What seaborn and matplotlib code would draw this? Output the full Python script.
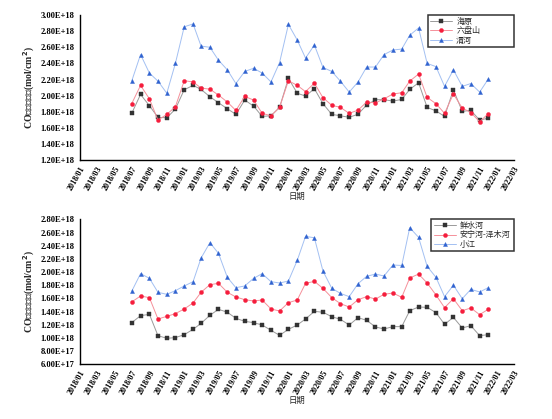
import matplotlib
matplotlib.use("Agg")
import matplotlib.pyplot as plt
import seaborn as sns
import pandas as pd
import numpy as np

sns.set_style("white")
plt.rcParams['font.family'] = ['Liberation Serif', 'Noto Sans CJK SC']

months = pd.date_range("2018-07-01", "2021-12-01", freq="MS")
tick_labels = [f"{y}/{m:02d}" for y in range(2018, 2023) for m in (1, 3, 5, 7, 9, 11)][:26]

haiyuan = [1.78, 2.015, 1.875, 1.73, 1.725, 1.833, 2.073, 2.127, 2.077, 1.986, 1.912, 1.837,
           1.767, 1.945, 1.87, 1.742, 1.75, 1.854, 2.214, 2.03, 1.994, 2.086, 1.90, 1.767,
           1.75, 1.73, 1.77, 1.883, 1.95, 1.95, 1.932, 1.953, 2.077, 2.16, 1.854, 1.81,
           1.742, 2.073, 1.804, 1.817, 1.696, 1.72]
liupanshan = [1.90, 2.127, 1.96, 1.696, 1.767, 1.862, 2.185, 2.17, 2.094, 2.08, 2.007, 1.92,
              1.816, 1.99, 1.945, 1.78, 1.75, 1.854, 2.185, 2.127, 2.05, 2.155, 1.974, 1.88,
              1.854, 1.78, 1.82, 1.92, 1.91, 1.96, 2.02, 2.036, 2.18, 2.268, 1.978, 1.90,
              1.78, 2.02, 1.846, 1.79, 1.676, 1.775]
weihe = [2.18, 2.51, 2.28, 2.18, 2.03, 2.40, 2.855, 2.89, 2.615, 2.60, 2.44, 2.32,
         2.15, 2.30, 2.34, 2.28, 2.17, 2.41, 2.884, 2.69, 2.466, 2.628, 2.35, 2.30,
         2.18, 2.044, 2.17, 2.355, 2.355, 2.51, 2.566, 2.578, 2.75, 2.84, 2.40, 2.36,
         2.115, 2.32, 2.115, 2.15, 2.044, 2.205]

xianshuihe = [1.232, 1.338, 1.359, 1.035, 0.995, 1.005, 1.05, 1.131, 1.222, 1.344, 1.435, 1.39,
              1.298, 1.253, 1.232, 1.197, 1.116, 1.04, 1.131, 1.197, 1.288, 1.404, 1.39, 1.323,
              1.283, 1.197, 1.308, 1.268, 1.167, 1.136, 1.172, 1.172, 1.414, 1.47, 1.465, 1.384,
              1.207, 1.313, 1.151, 1.187, 1.035, 1.05]
anninghe = [1.546, 1.637, 1.612, 1.288, 1.328, 1.369, 1.44, 1.531, 1.693, 1.809, 1.829, 1.693,
            1.622, 1.581, 1.561, 1.576, 1.44, 1.409, 1.536, 1.576, 1.829, 1.859, 1.753, 1.612,
            1.521, 1.47, 1.581, 1.627, 1.591, 1.662, 1.682, 1.617, 1.91, 1.97, 1.834, 1.652,
            1.46, 1.596, 1.414, 1.455, 1.354, 1.435]
xiaojiang = [1.708, 1.976, 1.905, 1.693, 1.662, 1.718, 1.789, 1.854, 2.213, 2.446, 2.284, 1.92,
             1.763, 1.789, 1.905, 1.976, 1.854, 1.834, 1.864, 2.178, 2.542, 2.52, 2.016, 1.753,
             1.677, 1.627, 1.824, 1.935, 1.97, 1.94, 2.107, 2.10, 2.674, 2.527, 2.087, 1.92,
             1.627, 1.80, 1.596, 1.738, 1.698, 1.763]

top_names = ["海原", "六盘山", "渭河"]
bot_names = ["鲜水河", "安宁河-泽木河", "小江"]

line_cols = ["#9a9a9a", "#f5909a", "#a3c0f2"]
mark_cols = ["#333333", "#f51d3c", "#2f62d0"]
markers = ["s", "o", "^"]

fig = plt.figure(figsize=(5.52, 4.19), dpi=100)
ax1 = fig.add_axes([0.145, 0.618, 0.786, 0.346])
ax2 = fig.add_axes([0.145, 0.1305, 0.786, 0.346])

ticks = pd.date_range("2018-01-01", "2022-03-01", freq="2MS")

def draw(ax, names, series, ylim, yticks, legx):
    frames = []
    for n, s in zip(names, series):
        frames.append(pd.DataFrame({"date": months, "val": np.array(s) * 1e18, "name": n}))
    df = pd.concat(frames)
    for i, n in enumerate(names):
        sub = df[df["name"] == n]
        sns.lineplot(data=sub, x="date", y="val", ax=ax, color=line_cols[i], lw=0.7,
                     marker=markers[i], markersize=2.9, markerfacecolor=mark_cols[i],
                     markeredgecolor=mark_cols[i], markeredgewidth=0.3, label=n)
    ax.set_xlim(ticks[0], ticks[-1])
    ax.set_xticks(ticks)
    ax.set_xticklabels(tick_labels, rotation=60, ha="right", rotation_mode="anchor",
                       fontsize=5.9, fontweight="bold")
    ax.set_ylim(*ylim)
    ax.set_yticks(yticks)
    ax.set_yticklabels([f"{v:.2E}" for v in yticks], fontsize=6.1, fontweight="bold")
    ax.tick_params(axis="both", direction="out", length=2.5, width=0.8, pad=1.5, colors="black")
    ax.tick_params(axis="x", pad=1)
    for sp in ["top", "right"]:
        ax.spines[sp].set_visible(False)
    for sp in ["left", "bottom"]:
        ax.spines[sp].set_color("black")
        ax.spines[sp].set_linewidth(1.0)
    ax.set_xlabel("日期", fontsize=6.0, labelpad=0.5)
    ax.set_ylabel("CO平均柱浓度(mol/cm$^\\mathbf{2}$)", fontsize=7.0, fontweight="bold", labelpad=2.5)
    leg = ax.legend(loc="upper right", bbox_to_anchor=(legx, 0.8, 1.0 - legx, 0.2),
                    mode="expand", fontsize=5.8, frameon=True,
                    fancybox=False, edgecolor="black", borderpad=0.3, labelspacing=0.2,
                    handlelength=2.7, handletextpad=0.5, borderaxespad=0)
    leg.get_frame().set_linewidth(1.1)

draw(ax1, top_names, [haiyuan, liupanshan, weihe], (1.2e18, 3.0e18),
     [1.2e18 + 0.2e18 * i for i in range(10)], 0.802)
draw(ax2, bot_names, [xianshuihe, anninghe, xiaojiang], (0.6e18, 2.8e18),
     [0.6e18 + 0.2e18 * i for i in range(12)], 0.81)

fig.savefig("out.png", dpi=100, facecolor="white")
